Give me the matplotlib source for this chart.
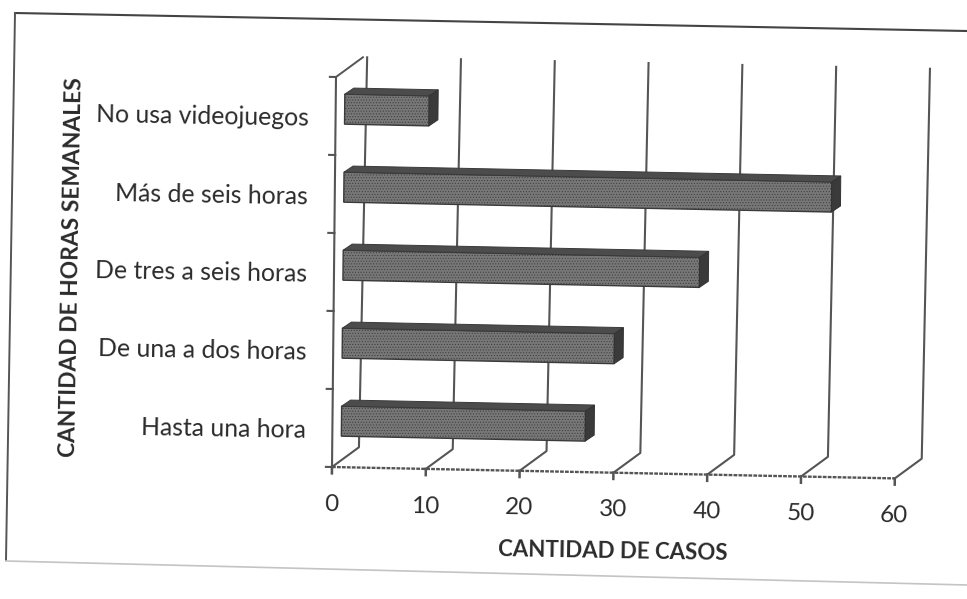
import matplotlib
matplotlib.use("Agg")
from matplotlib import pyplot as plt
from matplotlib.patches import Polygon
from matplotlib.transforms import Affine2D

categorias = ["Hasta una hora", "De una a dos horas", "De tres a seis horas",
              "Más de seis horas", "No usa videojuegos"]
casos = [26, 29, 38, 52, 9]
ticks_x = [0, 10, 20, 30, 40, 50, 60]

plt.rcParams["font.family"] = ["Lato", "DejaVu Sans"]
plt.rcParams["hatch.linewidth"] = 0.4
plt.rcParams["hatch.color"] = "#5c5c5c"

fig = plt.figure(figsize=(9.67, 5.99), dpi=100)
ax = fig.add_axes([0, 0, 1, 1])

# eje de pixeles de la hoja escaneada
ax.set_xlim(0, 967)
ax.set_ylim(599, 0)
ax.axis("off")

# de (casos, categoria) a pixeles: el grafico esta un poco girado
esc = Affine2D.from_values(9.38, 0.19, 0.8, -78, 332, 467)
tr = esc + ax.transData

# profundidad 3D en unidades de datos
fondo_v, fondo_c = 2.85, 0.26
frente_v, frente_c = 0.96, 0.09
barra_v, barra_c = 0.95, 0.08
alto = 0.385
ejes = "#555555"
texto = "#2b2b2b"
giro = -1.0

# marco
ax.plot([15, 967], [13, 31], color="#444444", lw=1.5)
ax.plot([15, 6], [13, 560], color="#555555", lw=1.4)
ax.plot([6, 967], [561, 585], color="#c4c4c4", lw=1.2)

# paredes del fondo
for t in ticks_x:
    ax.plot([t, t + fondo_v, t + fondo_v + 0.45],
            [0, fondo_c, 5 + fondo_c], color=ejes, lw=1.5, transform=tr)
    ax.plot([t, t], [0, -0.08], color=ejes, lw=1.8, transform=tr)
    ax.text(t, -0.48, str(t), transform=tr, ha="center", va="center",
            fontsize=17.5, color=texto, rotation=giro, rotation_mode="anchor")

# eje y y eje x del frente
ax.plot([0, 0], [-0.08, 5], color=ejes, lw=1.5, transform=tr)
ax.plot([0, 60], [0, 0], color=ejes, lw=1.7, ls=(0, (1.6, 0.5)), transform=tr)
ax.plot([0, fondo_v], [5, 5 + fondo_c], color=ejes, lw=1.4, transform=tr)
for c in range(6):
    ax.plot([0, -0.65], [c, c], color=ejes, lw=1.5, transform=tr)

# barras
pos = [i + 0.5 for i in range(len(casos))]
desplaza = Affine2D.from_values(1, 0, 0, 1, frente_v, frente_c)
ax.barh(pos, casos, height=alto, color="#777777", edgecolor="#3a3a3a", lw=1.0,
        hatch="......", transform=desplaza + tr, zorder=4)
for p, v in zip(pos, casos):
    arriba = p + alto / 2
    abajo = p - alto / 2
    ax.add_patch(Polygon([(0, arriba), (v, arriba), (v + barra_v, arriba + barra_c),
                          (barra_v, arriba + barra_c)], closed=True,
                         fc="#4c4c4c", ec="#3a3a3a", lw=0.7,
                         transform=desplaza + tr, zorder=4))
    ax.add_patch(Polygon([(v, abajo), (v, arriba), (v + barra_v, arriba + barra_c),
                          (v + barra_v, abajo + barra_c)], closed=True,
                         fc="#3a3a3a", ec="#333333", lw=0.7,
                         transform=desplaza + tr, zorder=4))

# nombres de categorias
for p, nombre in zip(pos, categorias):
    ax.text(-2.85, p - 0.04, nombre, transform=tr, ha="right", va="center",
            fontsize=17.8, color=texto, rotation=giro, rotation_mode="anchor")

ax.text(613, 552, "CANTIDAD DE CASOS", ha="center", va="center", fontsize=16,
        fontweight="bold", color=texto, rotation=giro, rotation_mode="anchor")
ax.text(72, 267, "CANTIDAD DE HORAS SEMANALES", ha="center", va="center",
        fontsize=16.4, fontweight="bold", color=texto, rotation=90 + giro,
        rotation_mode="anchor")

fig.savefig("out.png", dpi=100, facecolor="white")
